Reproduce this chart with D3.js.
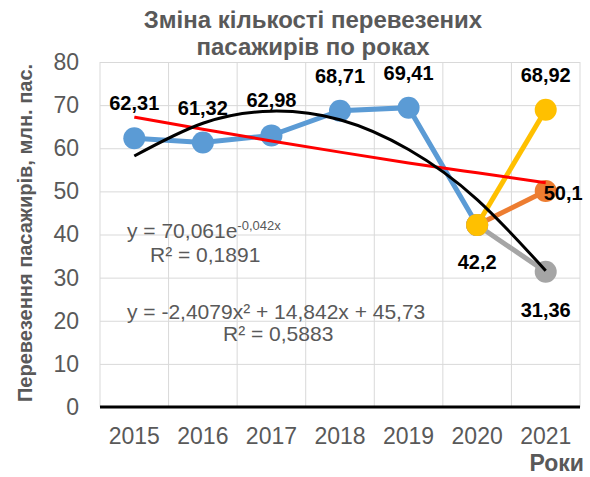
<!DOCTYPE html>
<html>
<head>
<meta charset="utf-8">
<script src="https://cdn.jsdelivr.net/npm/d3@7"></script>
<style>
	body { margin: 0; background: #fff; }
	svg { display: block; font-family: "Liberation Sans", Arial, sans-serif; }
	.grid line { stroke: #d9d9d9; stroke-width: 1; }
	.axis text { fill: #595959; font-size: 23px; }
</style>
</head>
<body>
<svg id="chart" width="590" height="477"></svg>
<script>
const years = ["2015", "2016", "2017", "2018", "2019", "2020", "2021"]
const yTicks = [0, 10, 20, 30, 40, 50, 60, 70, 80]
const blueValues = [62.31, 61.32, 62.98, 68.71, 69.41, 42.2, null]
const orangeValues = [null, null, null, null, null, 42.2, 50.1]
const grayValues = [null, null, null, null, null, 42.2, 31.36]
const yellowValues = [null, null, null, null, null, 42.2, 68.92]
// trendlines at each year
const expTrend = [67.2, 64.4, 61.7, 59.1, 56.6, 54.3, 52.0]
const polyTrend = [58.2, 65.8, 68.6, 66.6, 59.7, 48.1, 31.6]
const labels = ["62,31", "61,32", "62,98", "68,71", "69,41", "42,2", "68,92", "50,1", "31,36"]

const margin = {top: 62, right: 10, bottom: 70, left: 100}
const width = 590, height = 477
const plotWidth = width - margin.left - margin.right
const plotHeight = height - margin.top - margin.bottom

const svg = d3.select("#chart")
const plot = svg.append("g")
	.attr("transform", "translate(" + margin.left + "," + margin.top + ")")

const x = d3.scaleBand().domain(years).range([0, plotWidth]).paddingInner(0).paddingOuter(0)
const y = d3.scaleLinear().domain([0, 80]).range([plotHeight, 0])
const cx = d => x(d) + x.bandwidth() / 2

// horizontal grid
plot.append("g")
	.attr("class", "grid")
	.call(d3.axisLeft(y).tickValues(yTicks).tickSize(-plotWidth).tickFormat(""))
	.call(g => g.select(".domain").remove())
// vertical grid at category borders
plot.append("g")
	.attr("class", "grid")
	.selectAll("line")
	.data(years.concat(["end"]))
	.join("line")
	.attr("x1", (d, i) => i * x.bandwidth())
	.attr("x2", (d, i) => i * x.bandwidth())
	.attr("y1", 0)
	.attr("y2", plotHeight)

// y axis labels
plot.append("g")
	.attr("class", "axis")
	.call(d3.axisLeft(y).tickValues(yTicks).tickSize(0).tickPadding(21))
	.call(g => g.select(".domain").remove())
	.selectAll("text").style("font-family", "Liberation Sans, Arial, sans-serif")

// x axis labels
plot.append("g")
	.attr("class", "axis")
	.attr("transform", "translate(0," + plotHeight + ")")
	.call(d3.axisBottom(x).tickSize(0).tickPadding(21))
	.call(g => g.select(".domain").remove())
	.selectAll("text").style("font-family", "Liberation Sans, Arial, sans-serif")

plot.append("line")
	.attr("x1", 0).attr("x2", plotWidth)
	.attr("y1", plotHeight).attr("y2", plotHeight)
	.attr("stroke", "#000").attr("stroke-width", 3)

const line = d3.line()
	.defined(d => d != null)
	.x((d, i) => cx(years[i]))
	.y(d => y(d))

function drawSeries(values, color) {
	plot.append("path")
		.datum(values)
		.attr("fill", "none")
		.attr("stroke", color)
		.attr("stroke-width", 5)
		.attr("d", line)
	plot.append("g")
		.selectAll("circle")
		.data(values.map((v, i) => ({v, i})).filter(d => d.v != null))
		.join("circle")
		.attr("cx", d => cx(years[d.i]))
		.attr("cy", d => y(d.v))
		.attr("r", 11)
		.attr("fill", color)
}
drawSeries(blueValues, "#5b9bd5")
drawSeries(orangeValues, "#ed7d31")
drawSeries(grayValues, "#a5a5a5")
drawSeries(yellowValues, "#ffc000")

// trendlines
plot.append("path")
	.datum(expTrend)
	.attr("fill", "none")
	.attr("stroke", "#ff0000")
	.attr("stroke-width", 3)
	.attr("d", d3.line().x((d, i) => cx(years[i])).y(d => y(d)).curve(d3.curveNatural))
plot.append("path")
	.datum(polyTrend)
	.attr("fill", "none")
	.attr("stroke", "#000")
	.attr("stroke-width", 3)
	.attr("d", d3.line().x((d, i) => cx(years[i])).y(d => y(d)).curve(d3.curveNatural))

// data labels
const labelPoints = [
	{t: labels[0], i: 0, v: blueValues[0], dy: -28, anchor: "middle", dx: 0},
	{t: labels[1], i: 1, v: blueValues[1], dy: -28, anchor: "middle", dx: 0},
	{t: labels[2], i: 2, v: blueValues[2], dy: -28, anchor: "middle", dx: 0},
	{t: labels[3], i: 3, v: blueValues[3], dy: -28, anchor: "middle", dx: 0},
	{t: labels[4], i: 4, v: blueValues[4], dy: -28, anchor: "middle", dx: 0},
	{t: labels[5], i: 5, v: blueValues[5], dy: 44, anchor: "middle", dx: 0},
	{t: labels[6], i: 6, v: yellowValues[6], dy: -28, anchor: "middle", dx: 0},
	{t: labels[7], i: 6, v: orangeValues[6], dy: 9, anchor: "start", dx: -2},
	{t: labels[8], i: 6, v: grayValues[6], dy: 45, anchor: "middle", dx: 0},
]
plot.append("g")
	.selectAll("text")
	.data(labelPoints)
	.join("text")
	.attr("x", d => cx(years[d.i]) + d.dx)
	.attr("y", d => y(d.v) + d.dy)
	.attr("text-anchor", d => d.anchor)
	.attr("font-size", 20)
	.attr("font-weight", "bold")
	.attr("fill", "#000")
	.text(d => d.t)

// trendline equations
const eq = svg.append("g").attr("fill", "#595959").attr("font-size", 21)
const eq1 = eq.append("text").attr("x", 127).attr("y", 238)
eq1.append("tspan").text("y = 70,061e")
eq1.append("tspan").attr("font-size", 13).attr("dy", -8).text("-0,042x")
eq.append("text").attr("x", 150).attr("y", 262).text("R² = 0,1891")
eq.append("text").attr("x", 127).attr("y", 319).text("y = -2,4079x² + 14,842x + 45,73")
eq.append("text").attr("x", 223).attr("y", 341).text("R² = 0,5883")

// title
const title = svg.append("g")
	.attr("fill", "#595959").attr("font-size", 24).attr("font-weight", "bold")
	.attr("text-anchor", "middle")
title.append("text").attr("x", 313).attr("y", 28).text("Зміна кількості перевезених")
title.append("text").attr("x", 313).attr("y", 55).text("пасажирів по роках")

// axis titles
svg.append("text")
	.attr("transform", "translate(32," + 233 + ") rotate(-90)")
	.attr("text-anchor", "middle")
	.attr("fill", "#595959").attr("font-size", 20).attr("font-weight", "bold")
	.text("Перевезення пасажирів, млн. пас.")
svg.append("text")
	.attr("x", 584).attr("y", 471)
	.attr("text-anchor", "end")
	.attr("fill", "#595959").attr("font-size", 23).attr("font-weight", "bold")
	.text("Роки")
</script>
</body>
</html>
